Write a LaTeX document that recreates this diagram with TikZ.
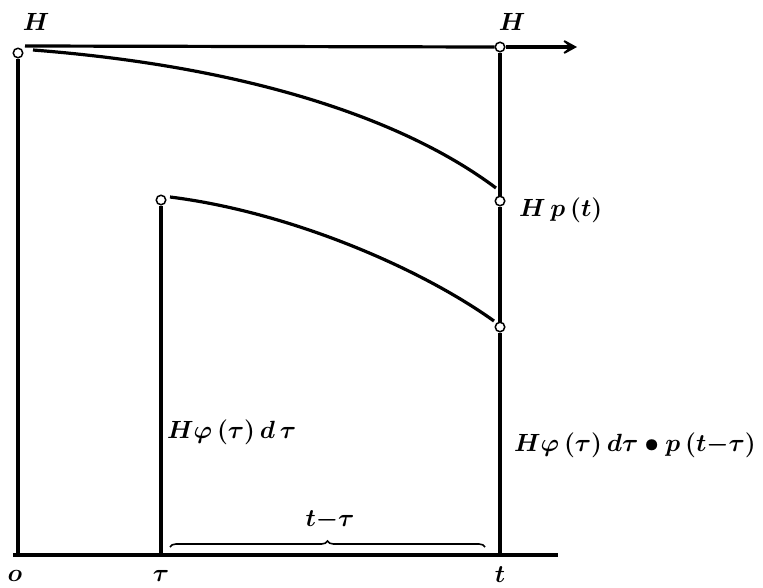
\documentclass[tikz,border=0pt]{standalone}
\usetikzlibrary{decorations.pathreplacing,arrows.meta}
\begin{document}
\begin{tikzpicture}[x=1pt,y=-1pt,
  ln/.style={line width=3.2pt},
  thin/.style={line width=1.6pt},
  dot/.style={circle,draw,line width=1.5pt,inner sep=0pt,minimum size=9.5pt,fill=white},
  lbl/.style={inner sep=0pt,font=\fontsize{24.88}{30}\selectfont\boldmath}]
\useasboundingbox (0,0) rectangle (763,587);
% points
\node[dot] (A) at (18,53) {};
\node[dot] (B) at (500,47) {};
\node[dot] (C) at (500,201) {};
\node[dot] (D) at (500,327) {};
\node[dot] (E) at (161,200) {};
\coordinate (O) at (18,555);
\coordinate (T) at (161,555);
\coordinate (Tt) at (500,555);
\coordinate (bl) at (13,555);
\coordinate (br) at (558,555);
\coordinate (topL) at (25,46);
\coordinate (arr) at (577,47);
\coordinate (c1s) at (33,50);
\coordinate (c1e) at (496,188);
\coordinate (c2s) at (170,197);
\coordinate (c2e) at (494,321);
\coordinate (bs) at (170,547);
\coordinate (be) at (485,547);
% lines
\draw[ln] (topL) -- (B.west);
\draw[ln,-{Stealth[length=20pt,width=22pt,inset=13pt]}] (B.east) -- (arr);
\draw[ln] (A.south) -- (O);
\draw[ln] (E.south) -- (T);
\draw[ln] (B.south) -- (C.north);
\draw[ln] (C.south) -- (D.north);
\draw[ln] (D.south) -- (Tt);
\draw[ln] (bl) -- (br);
\draw[ln] (c1s) .. controls (240,66) and (400,116) .. (c1e);
\draw[ln] (c2s) .. controls (290,212) and (420,268) .. (c2e);
\draw[thin,decorate,decoration={brace,amplitude=6pt}] (bs) -- (be);
% labels
\node[lbl] (H1) at (36,22) {$H$};
\node[lbl] (H2) at (512,22) {$H$};
\node[lbl,anchor=west] (Hp) at (519,210) {$H\,p\,(t)$};
\node[lbl,anchor=west] (Hf) at (167,432) {$H\varphi\,(\tau)\,d\,\tau$};
\node[lbl,anchor=west] (Hfp) at (514,445) {$H\varphi\,(\tau)\,d\tau\bullet p\,(t{-}\tau)$};
\node[lbl] (tt) at (330,520) {$t{-}\tau$};
\node[lbl] (lo) at (15,576) {$o$};
\node[lbl] (ltau) at (161,576) {$\tau$};
\node[lbl] (lt) at (500,575) {$t$};
\end{tikzpicture}
\end{document}
